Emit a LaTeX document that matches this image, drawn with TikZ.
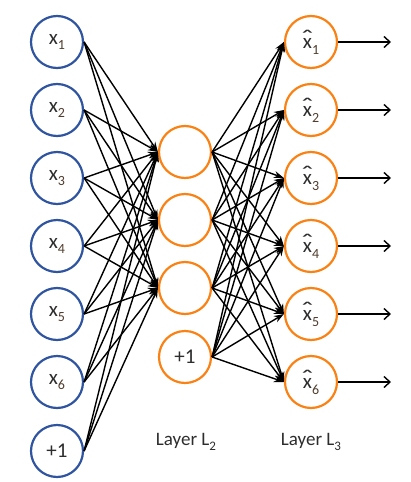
\documentclass[tikz,border=0pt]{standalone}
\usepackage{fontspec}
\setmainfont{Carlito}
\usetikzlibrary{arrows.meta}
\definecolor{nblue}{RGB}{47,84,160}
\definecolor{norange}{RGB}{250,130,20}
\definecolor{ntext}{RGB}{45,45,45}
\definecolor{nsub}{RGB}{80,60,45}
\newlength\xwid
\newcommand{\xsub}[1]{x\raisebox{-0.55ex}{\fontsize{14}{14}\selectfont\color{nsub}#1}}
\newcommand{\xhat}[1]{\settowidth\xwid{x}\makebox[0pt][l]{\makebox[\xwid][c]{\raisebox{2.5pt}{\scalebox{1.6}[1.15]{\char"02C6}}}}x\raisebox{-0.55ex}{\fontsize{14}{14}\selectfont\color{nsub}#1}}
\begin{document}
\begin{tikzpicture}[x=1pt,y=-1pt,
  unit/.style={circle, line width=2.2pt, minimum size=52pt, inner sep=0pt, text=ntext, font=\fontsize{21}{21}\selectfont},
  inunit/.style={unit, draw=nblue},
  hidunit/.style={unit, draw=norange},
  conn/.style={line width=1.4pt, -{Stealth[length=10pt,width=7pt]}},
  outarrow/.style={line width=1.4pt, -{Straight Barb[length=6pt,width=11pt]}},
  lbl/.style={text=ntext, font=\fontsize{19}{19}\selectfont}]
\useasboundingbox (0,0) rectangle (411,482);
% input layer
\foreach \i/\y in {1/42,2/110,3/178,4/246,5/314,6/382}
  \node[inunit] (a\i) at (57,\y) {\xsub{\i}};
\node[inunit] (a7) at (57,451) {+1};
% hidden layer
\foreach \i/\y in {1/152,2/220,3/288}
  \node[hidunit] (h\i) at (185,\y) {};
\node[hidunit] (h4) at (185,357) {+1};
% output layer
\foreach \i/\y in {1/42,2/110,3/178,4/246,5/314,6/382}
  \node[hidunit] (o\i) at (311,\y) {\xhat{\i}};
% connections
\foreach \i in {1,...,7}
  \foreach \j in {1,2,3}
    \draw[conn] (a\i.east) -- (h\j.west);
\foreach \i in {1,...,4}
  \foreach \j in {1,...,6}
    \draw[conn] (h\i.east) -- (o\j.west);
\foreach \j in {1,...,6} {
  \coordinate (e\j) at (391,0 |- o\j);
  \draw[outarrow] (o\j.east) -- (e\j);
}
\node[lbl] (l2) at (186,442) {Layer L\raisebox{-0.5ex}{\fontsize{13}{13}\selectfont 2}};
\node[lbl] (l3) at (311,442) {Layer L\raisebox{-0.5ex}{\fontsize{13}{13}\selectfont 3}};
\end{tikzpicture}
\end{document}
